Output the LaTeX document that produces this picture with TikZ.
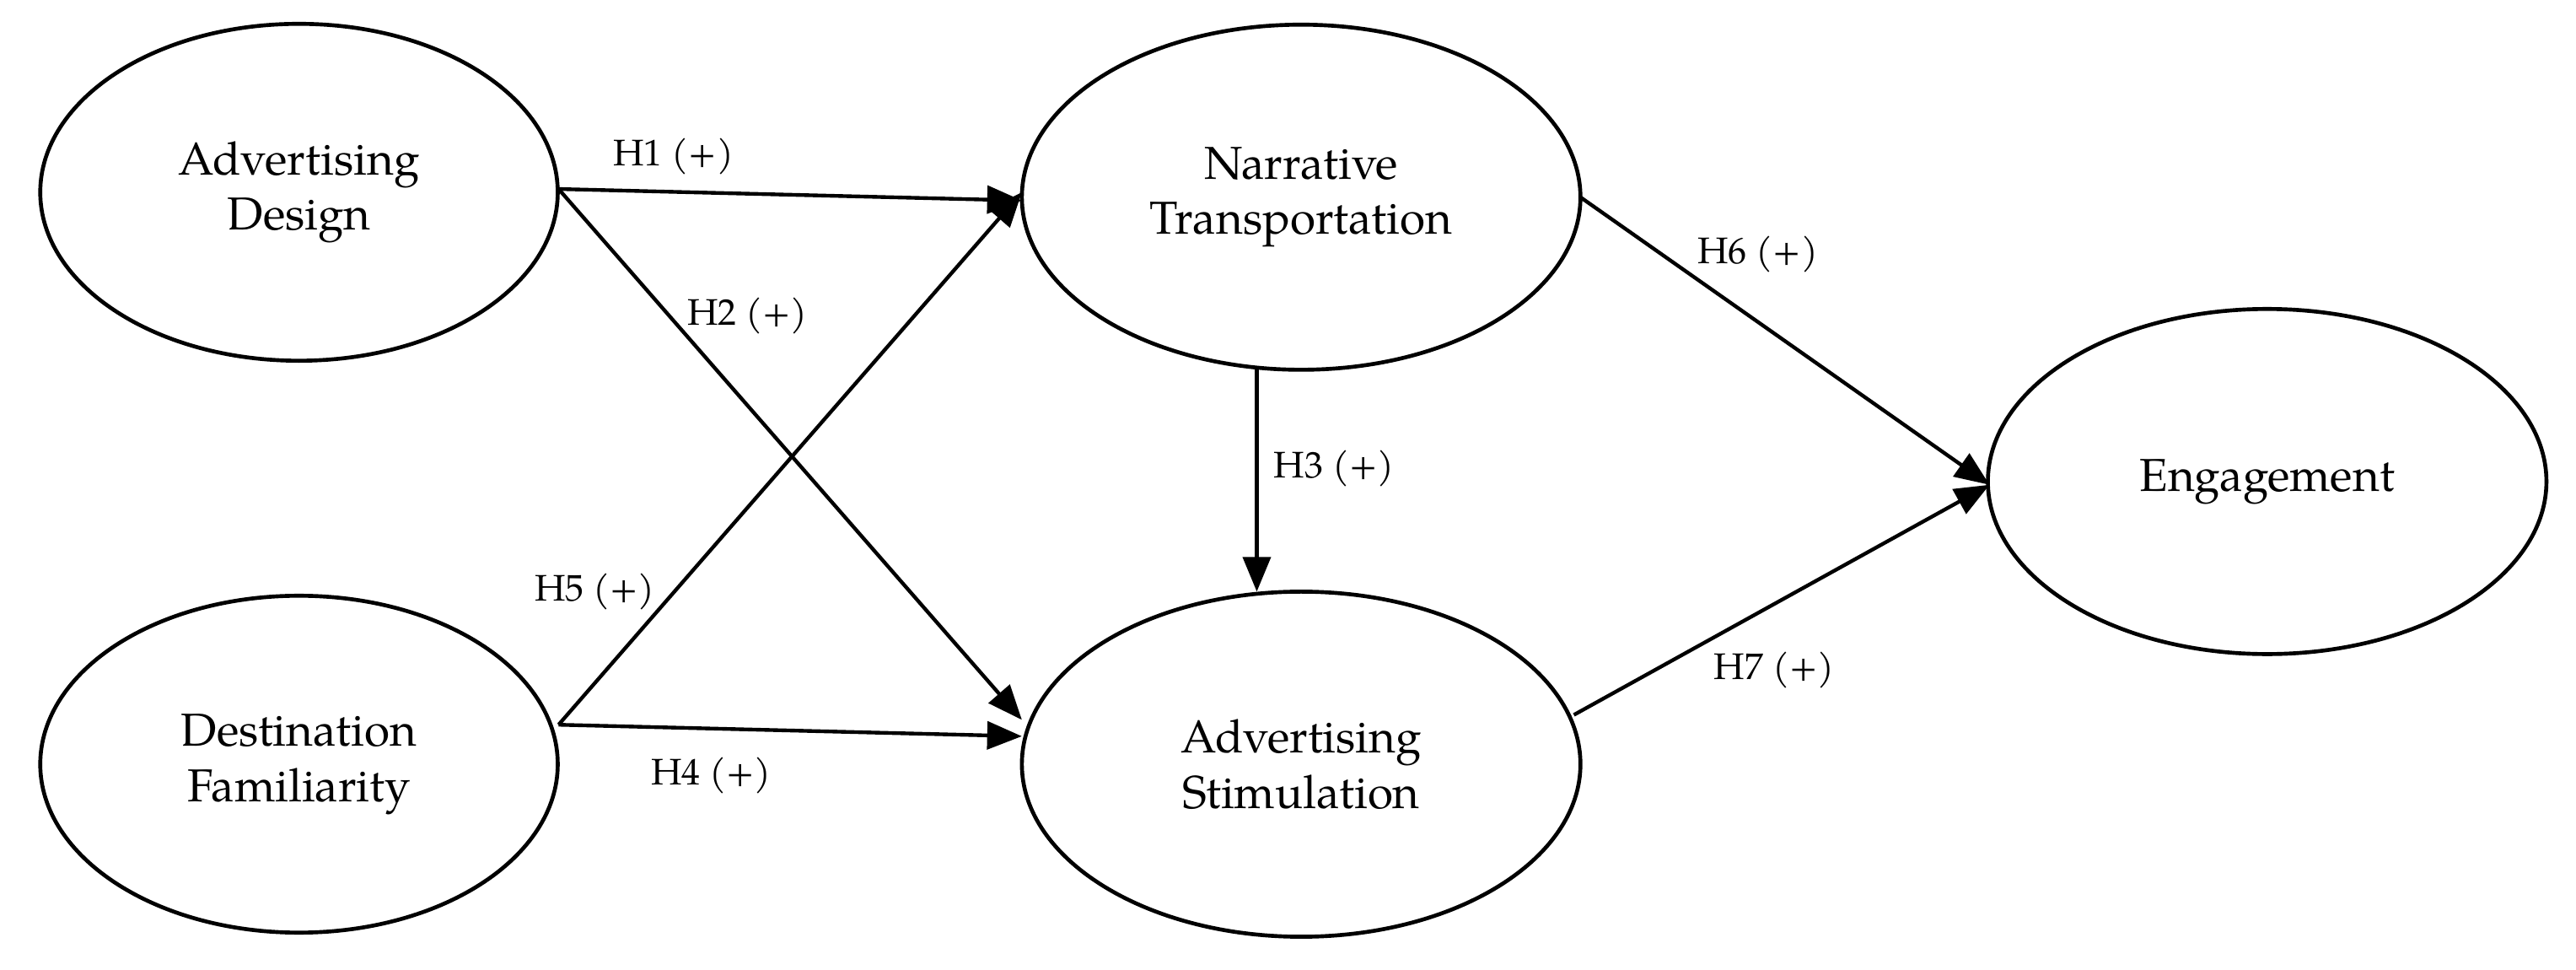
\documentclass[tikz,border=0pt]{standalone}
\usepackage{fontspec}
\setmainfont{TeX Gyre Pagella}
\usetikzlibrary{shapes.geometric,arrows.meta}
\begin{document}
\begin{tikzpicture}[x=0.05cm,y=-0.05cm,
  every node/.style={font=\fontsize{40}{48}\selectfont},
  var/.style={draw,line width=3.4pt,ellipse,minimum width=315*0.05cm,minimum height=205*0.05cm,align=center},
  big/.style={minimum width=340*0.05cm,minimum height=210*0.05cm},
  arr/.style={line width=3.2pt,-{Triangle[length=30pt,width=24pt]}},
  lab/.style={font=\fontsize{32}{38}\selectfont}]
\useasboundingbox (0,0) rectangle (1568,590);
\node[var] (ad) at (182,117) {Advertising\\Design};
\node[var] (df) at (182,465) {Destination\\Familiarity};
\node[var,big] (nt) at (792,120) {Narrative\\Transportation};
\node[var,big] (as) at (792,465) {Advertising\\Stimulation};
\node[var,big] (en) at (1380,293) {Engagement};
\coordinate (adr) at (340,115);
\coordinate (dfr) at (340,441);
\coordinate (nt1) at (622,122);
\coordinate (nt2) at (622,117);
\coordinate (as1) at (622,438);
\coordinate (as2) at (622,448);
\coordinate (ntb) at (765,225);
\coordinate (ast) at (765,360);
\coordinate (ntr) at (962,120);
\coordinate (asr) at (958,435);
\coordinate (enl) at (1211,295);
\draw[arr] (adr) -- (nt1);
\draw[arr] (adr) -- (as1);
\draw[arr] (dfr) -- (nt2);
\draw[arr] (dfr) -- (as2);
\draw[arr] (ntb) -- (ast);
\draw[arr] (ntr) -- (enl);
\draw[arr] (asr) -- (enl);
\node[lab] (h1) at (410,95) {H1 (+)};
\node[lab] (h2) at (455,192) {H2 (+)};
\node[lab] (h3) at (812,285) {H3 (+)};
\node[lab] (h4) at (433,472) {H4 (+)};
\node[lab] (h5) at (362,360) {H5 (+)};
\node[lab] (h6) at (1070,155) {H6 (+)};
\node[lab] (h7) at (1080,408) {H7 (+)};
\end{tikzpicture}
\end{document}
